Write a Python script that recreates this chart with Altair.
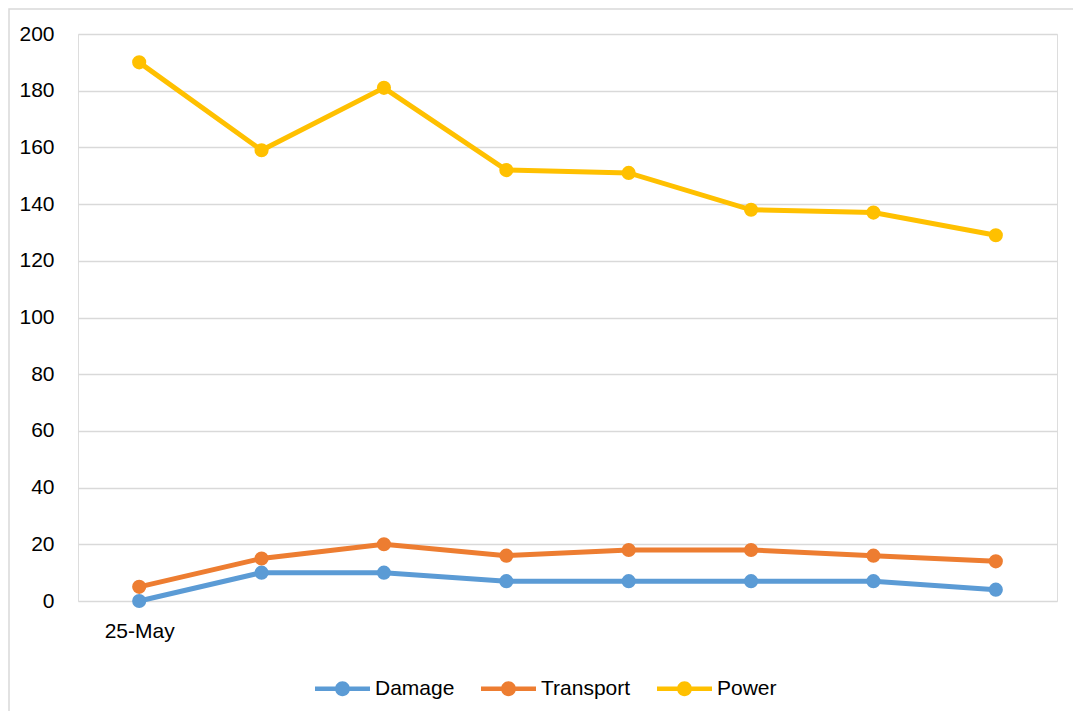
import altair as alt
import pandas as pd

dates = ["25-May", "26-May", "27-May", "28-May", "29-May", "30-May", "31-May", "1-Jun"]
damage = [0, 10, 10, 7, 7, 7, 7, 4]
transport = [5, 15, 20, 16, 18, 18, 16, 14]
power = [190, 159, 181, 152, 151, 138, 137, 129]
series = ["Damage", "Transport", "Power"]
colors = ["#5B9BD5", "#ED7D31", "#FFC000"]
y_ticks = [0, 20, 40, 60, 80, 100, 120, 140, 160, 180, 200]

rows = []
for name, vals in zip(series, [damage, transport, power]):
    for d, v in zip(dates, vals):
        rows.append({"date": d, "series": name, "value": v})
df = pd.DataFrame(rows)

W, H = 979, 567
FONT = "Liberation Sans"
FS = 21
sym = ("M-1,-0.085 L1,-0.085 L1,0.085 L-1,0.085 Z "
       "M0.27,0 A0.27,0.27 0 1,1 -0.27,0 A0.27,0.27 0 1,1 0.27,0 Z")

color = alt.Color(
    "series:N",
    sort=series,
    scale=alt.Scale(domain=series, range=colors),
    legend=alt.Legend(
        title=None,
        orient="none",
        legendX=237,
        legendY=627,
        direction="horizontal",
        symbolType=sym,
        symbolSize=3025,
        symbolStrokeWidth=0,
        symbolOpacity=1,
        labelFontSize=FS,
        labelFont=FONT,
        labelColor="#000000",
        labelOffset=5,
        columnPadding=26,
    ),
)

base = alt.Chart(df).encode(
    x=alt.X(
        "date:N",
        sort=dates,
        title=None,
        axis=alt.Axis(
            labelExpr="datum.value == '25-May' ? datum.label : ''",
            ticks=False,
            domain=False,
            grid=False,
            labelPadding=19,
            labelFontSize=FS,
            labelFont=FONT,
            labelColor="#000000",
            labelAngle=0,
        ),
    ),
    y=alt.Y(
        "value:Q",
        title=None,
        scale=alt.Scale(domain=[0, 200], nice=False),
        axis=alt.Axis(
            values=y_ticks,
            grid=True,
            gridColor="#d9d9d9",
            gridWidth=1.3,
            domain=False,
            ticks=False,
            labelPadding=24,
            labelFontSize=FS,
            labelFont=FONT,
            labelColor="#000000",
        ),
    ),
    color=color,
)

lines = base.mark_line(strokeWidth=5)
points = base.mark_circle(size=200, opacity=1)

frame = alt.Chart(pd.DataFrame({"a": [0]})).mark_rect(
    fill="transparent", stroke="#d9d9d9", strokeWidth=1.5
).encode(
    x=alt.value(-69),
    y=alt.value(-25),
    x2=alt.value(W + 100),
    y2=alt.value(H + 200),
)

chart = alt.layer(frame, lines, points).properties(
    width=W,
    height=H,
    autosize=alt.AutoSizeParams(type="none"),
    padding={"left": 70, "top": 26, "right": 16, "bottom": 110},
).configure_view(
    stroke="#d9d9d9", strokeWidth=1.3
).configure(
    font=FONT
)

chart.save("out.html", embed_options={"renderer": "svg", "actions": False})
